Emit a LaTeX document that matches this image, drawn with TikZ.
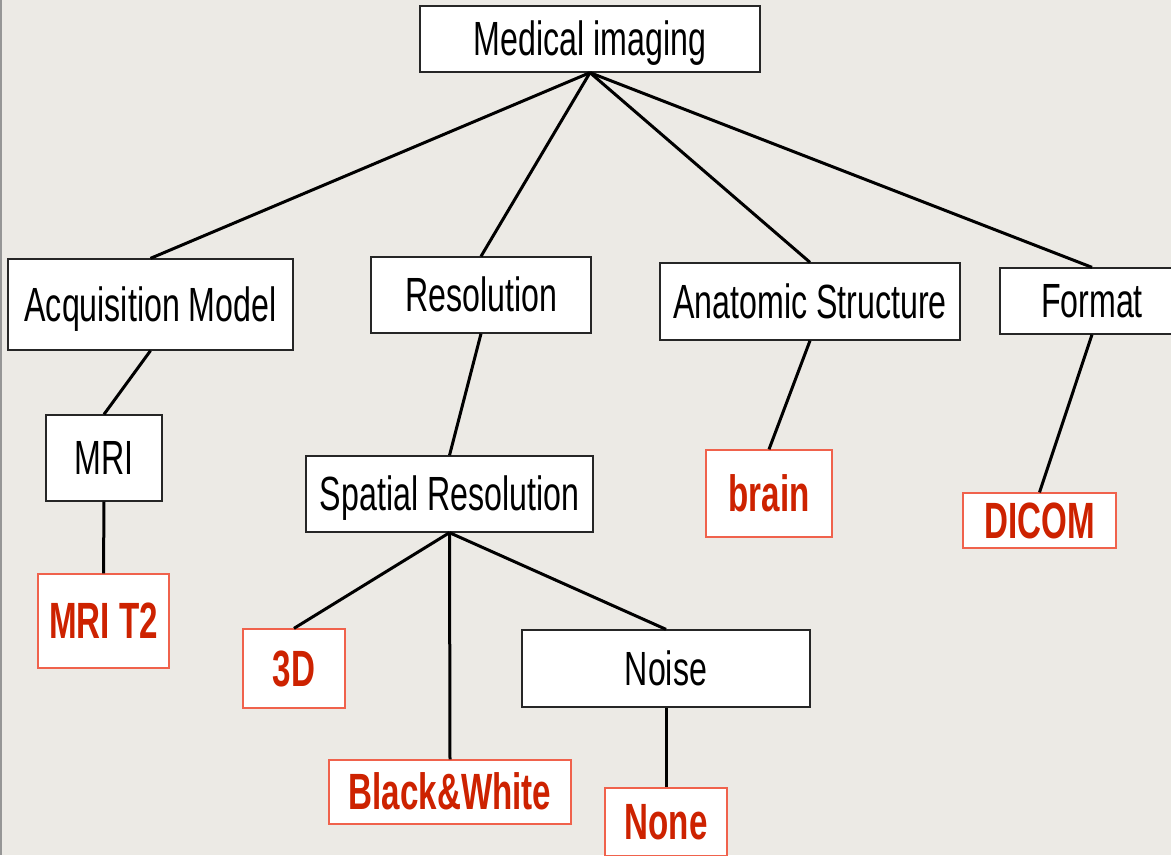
\documentclass[tikz,border=0pt]{standalone}
\usepackage{fontspec}
\usepackage{tikz}
\newfontfamily\narrowfont[FakeStretch=0.67]{Liberation Sans}
\newfontfamily\narrowbold[FakeStretch=0.65]{Liberation Sans Bold}
\definecolor{paperGray}{RGB}{236,234,229}
\definecolor{edgeGray}{RGB}{150,150,150}
\definecolor{leafRed}{RGB}{205,34,0}
\definecolor{leafEdge}{RGB}{240,98,76}
\tikzset{
  catbox/.style={draw=black!85, fill=white, line width=1.3pt, inner sep=0pt,
                 text height=33pt, text depth=0pt,
                 font=\narrowfont\fontsize{48}{52}\selectfont},
  leafbox/.style={catbox, draw=leafEdge, text=leafRed, text height=35pt,
                  font=\narrowbold\fontsize{51}{55}\selectfont},
  link/.style={line width=3pt, draw=black}
}
\begin{document}
\begin{tikzpicture}[x=1pt, y=-1pt]
\fill[paperGray] (0,0) rectangle (1171,855);
\useasboundingbox (0,0) rectangle (1171,855);
\draw[edgeGray, line width=2pt] (1,0) -- (1,855);
\node[catbox, minimum width=340pt, minimum height=66pt] (med) at (590,39) {Medical imaging};
\node[catbox, minimum width=285pt, minimum height=91pt] (acq) at (150.5,304.5) {Acquisition Model};
\node[catbox, minimum width=220pt, minimum height=76pt] (res) at (481,295) {Resolution};
\node[catbox, minimum width=300pt, minimum height=77pt] (ana) at (810,301.5) {Anatomic Structure};
\node[catbox, minimum width=184pt, minimum height=66pt] (fmt) at (1092,301) {Format};
\node[catbox, minimum width=116pt, minimum height=86pt] (mri) at (104,458) {MRI};
\node[catbox, minimum width=287pt, minimum height=76pt] (spat) at (449.5,494) {Spatial Resolution};
\node[catbox, minimum width=288pt, minimum height=77pt] (noise) at (666,668.5) {Noise};
\node[leafbox, minimum width=131pt, minimum height=94pt] (mrit) at (103.5,621) {MRI T2};
\node[leafbox, minimum width=126pt, minimum height=87pt] (brain) at (769,493.5) {brain};
\node[leafbox, minimum width=153pt, minimum height=55pt] (dicom) at (1039.5,520.5) {DICOM};
\node[leafbox, minimum width=102pt, minimum height=79pt] (threed) at (294,668.5) {3D};
\node[leafbox, minimum width=242pt, minimum height=64pt] (bw) at (450,792) {Black\&White};
\node[leafbox, minimum width=122pt, minimum height=68pt] (none) at (666,822) {None};
\draw[link] (med.south) -- (acq.north);
\draw[link] (med.south) -- (res.north);
\draw[link] (med.south) -- (ana.north);
\draw[link] (med.south) -- (fmt.north);
\draw[link] (acq.south) -- (mri.north);
\draw[link] (mri.south) -- (mrit.north);
\draw[link] (res.south) -- (spat.north);
\draw[link] (ana.south) -- (brain.north);
\draw[link] (fmt.south) -- (dicom.north);
\draw[link] (spat.south) -- (threed.north);
\draw[link] (spat.south) -- (bw.north);
\draw[link] (spat.south) -- (noise.north);
\draw[link] (noise.south) -- (none.north);
\end{tikzpicture}
\end{document}
